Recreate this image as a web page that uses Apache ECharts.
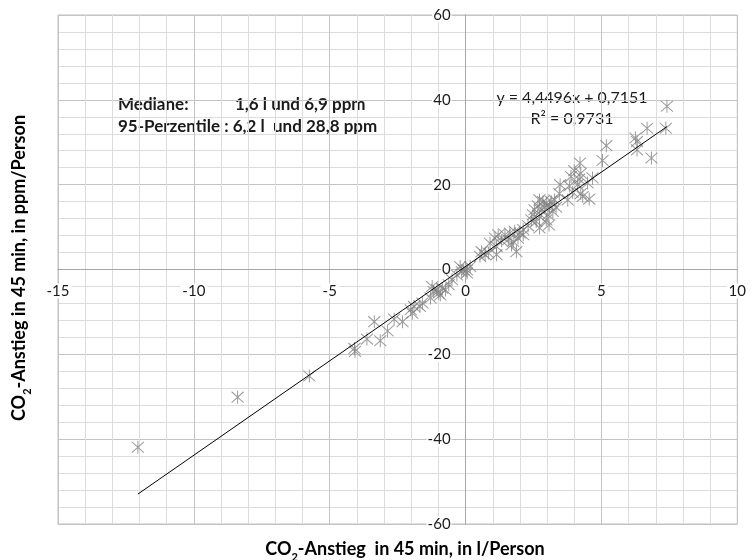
<!DOCTYPE html>
<html>
<head>
<meta charset="utf-8">
<script src="https://cdn.jsdelivr.net/npm/echarts@6/dist/echarts.min.js"></script>
<style>
  html, body { margin: 0; padding: 0; background: #ffffff; }
  #chart { width: 751px; height: 560px; }
</style>
</head>
<body>
<div id="chart"></div>
<script>
// CO2 rise per person within 45 minutes: litres (x) against ppm (y)
const litres = [
  -12.06, -8.39, -5.75,
  -4.07, -4.09, -3.63, -3.36, -3.14, -2.87, -2.63, -2.32, -2.02, -1.96, -1.90,
  -1.68, -1.59, -1.29, -1.23, -1.17, -1.05, -0.99, -0.93, -0.86, -0.74, -0.62,
  -0.50, -0.32, -0.07, 0.05, 0.17, -0.20, -0.14,
  7.37, 6.68, 6.25, 6.31, 6.31, 6.84, 5.18, 5.04, 4.21, 4.00, 4.24, 3.88, 4.18,
  4.67, 3.48, 3.82, 4.12, 4.49, 3.94, 4.24, 4.31, 4.55, 3.76, 3.45, 2.72, 2.85,
  2.97, 3.15, 3.27, 2.66, 2.90, 3.09, 3.33, 2.54, 2.78, 3.21, 2.48, 2.72, 3.03,
  2.42, 2.60, 2.97, 2.72, 3.07, 2.30, 2.12, 2.00, 1.81, 1.63, 1.45, 1.20, 1.08,
  1.32, 1.57, 1.75, 1.93, 2.12, 1.14, 1.87, 1.69, 0.90, 0.59, 0.72, 0.53, 0.84,
  1.14, 0.05, 7.41
];
const ppm = [
  -41.9, -30.1, -25.1,
  -19.3, -18.6, -16.4, -12.3, -16.8, -14.5, -11.7, -12.3, -9.5, -10.3, -8.7,
  -8.7, -7.9, -6.7, -4.0, -5.2, -4.8, -5.6, -6.0, -4.4, -4.8, -3.6,
  -2.4, -1.3, -0.1, -0.8, 0.7, 0.7, -0.5,
  33.3, 33.3, 31.0, 30.2, 28.2, 26.3, 29.2, 25.7, 25.1, 23.3, 22.7, 21.9, 21.3,
  21.6, 20.0, 19.7, 20.0, 20.4, 18.2, 17.9, 17.2, 16.6, 16.4, 17.9, 16.4, 16.0,
  15.7, 16.0, 16.4, 15.0, 14.7, 14.9, 14.7, 14.1, 13.9, 13.7, 12.9, 12.5, 12.9,
  11.7, 11.3, 11.7, 9.8, 10.5, 10.3, 9.4, 8.6, 9.0, 8.6, 8.2, 8.2, 7.4,
  6.8, 7.0, 6.6, 7.4, 8.2, 5.4, 4.2, 5.8, 6.2, 4.2, 3.5, 3.1, 3.9,
  3.5, -0.1, 38.5
];

// Axis ranges and tick steps
const xTicks = [-15, -10, -5, 0, 5, 10];
const yTicks = [-60, -40, -20, 0, 20, 40, 60];

// Linear regression stated in the chart
const slope = 4.4496;
const intercept = 0.7151;
const rSquared = 0.9731;

// Summary statistics
const medianLitres = '1,6';
const medianPpm = '6,9';
const p95Litres = '6,2';
const p95Ppm = '28,8';

const de = v => String(v).replace('.', ',');

const points = litres.map((x, i) => [x, ppm[i]]);
const xMin = Math.min(...litres);
const xMax = Math.max(...litres);
const trend = [
  [xMin, slope * xMin + intercept],
  [xMax, slope * xMax + intercept]
];

const FONT = 'Lato, "Open Sans", sans-serif';
const INK = '#1a1a1a';
const chart = echarts.init(document.getElementById('chart'), null, { renderer: 'canvas' });

const axisLabelBase = {
  color: INK,
  fontFamily: FONT,
  fontSize: 15,
  backgroundColor: '#ffffff'
};

const titleRich = {
  b: { fontFamily: FONT, fontSize: 18, fontWeight: 'bold', color: INK, lineHeight: 22, verticalAlign: 'middle' },
  s: { fontFamily: FONT, fontSize: 11, fontWeight: 'bold', color: INK, lineHeight: 22, verticalAlign: 'bottom', padding: [0, 0, -3, 0] }
};

function textStyle(text, size, weight, extra) {
  return Object.assign({ text: text, fontFamily: FONT, fontSize: size, fontWeight: weight, fill: INK,
                         verticalAlign: 'middle' }, extra || {});
}

chart.setOption({
  backgroundColor: '#ffffff',
  animation: false,
  grid: { left: 58, right: 8, top: 15, bottom: 36, containLabel: false,
          show: true, borderColor: '#bfbfbf', borderWidth: 1 },
  xAxis: {
    type: 'value',
    position: 'bottom',
    min: xTicks[0],
    max: xTicks[xTicks.length - 1],
    interval: xTicks[1] - xTicks[0],
    axisLine: { show: true, onZero: false, lineStyle: { color: '#a6a6a6', width: 1 } },
    axisTick: { show: false },
    axisLabel: Object.assign({}, axisLabelBase, { margin: 14, padding: [0, 2], showMinLabel: true, showMaxLabel: true }),
    splitLine: { show: true, lineStyle: { color: '#c4c4c4', width: 1 } },
    minorTick: { show: false, splitNumber: 5 },
    minorSplitLine: { show: true, lineStyle: { color: '#dcdcdc', width: 1 } }
  },
  yAxis: {
    type: 'value',
    position: 'left',
    min: yTicks[0],
    max: yTicks[yTicks.length - 1],
    interval: yTicks[1] - yTicks[0],
    axisLine: { show: true, onZero: false, lineStyle: { color: '#a6a6a6', width: 1 } },
    axisTick: { show: false },
    axisLabel: Object.assign({}, axisLabelBase, { margin: 14, padding: [0, 1], showMinLabel: true, showMaxLabel: true }),
    splitLine: { show: true, lineStyle: { color: '#c4c4c4', width: 1 } },
    minorTick: { show: false, splitNumber: 5 },
    minorSplitLine: { show: true, lineStyle: { color: '#dcdcdc', width: 1 } }
  },
  series: [
    {
      type: 'scatter',
      data: points,
      symbol: 'path://M0,0L10,10M10,0L0,10M5,-1L5,11',
      symbolSize: [12, 13],
      itemStyle: { color: 'rgba(0,0,0,0)', borderColor: '#808080', borderWidth: 1 },
      z: 3
    },
    {
      type: 'line',
      data: trend,
      symbol: 'none',
      lineStyle: { color: '#000000', width: 1 },
      z: 4
    }
  ],
  graphic: [
    { type: 'text', x: 118, y: 105,
      style: textStyle('Mediane:', 17, 'bold') },
    { type: 'text', x: 235, y: 105,
      style: textStyle(medianLitres + ' l und ' + medianPpm + ' ppm', 17, 'bold') },
    { type: 'text', x: 118, y: 127,
      style: textStyle('95-Perzentile : ' + p95Litres + ' l  und ' + p95Ppm + ' ppm', 17, 'bold') },
    { type: 'text', x: 572, y: 98,
      style: textStyle('y = ' + de(slope) + 'x + ' + de(intercept), 16, 'normal', { align: 'center' }) },
    { type: 'text', x: 572, y: 119,
      style: textStyle('R² = ' + de(rSquared), 16, 'normal', { align: 'center' }) },
    { type: 'text', x: 405, y: 549,
      style: { text: '{b|CO}{s|2}{b|-Anstieg  in 45 min, in l/Person}', rich: titleRich, align: 'center', verticalAlign: 'middle' } },
    { type: 'text', x: 19, y: 268, rotation: Math.PI / 2,
      style: { text: '{b|CO}{s|2}{b|-Anstieg in 45 min, in ppm/Person}', rich: titleRich, align: 'center', verticalAlign: 'middle' } }
  ]
});

// Move both axes (line and labels) onto the zero crossing of the other axis
const zero = chart.convertToPixel({ gridIndex: 0 }, [0, 0]);
const corner = chart.convertToPixel({ gridIndex: 0 }, [xTicks[0], yTicks[0]]);
chart.setOption({
  xAxis: { offset: zero[1] - corner[1] },
  yAxis: { offset: corner[0] - zero[0] }
});
</script>
</body>
</html>
